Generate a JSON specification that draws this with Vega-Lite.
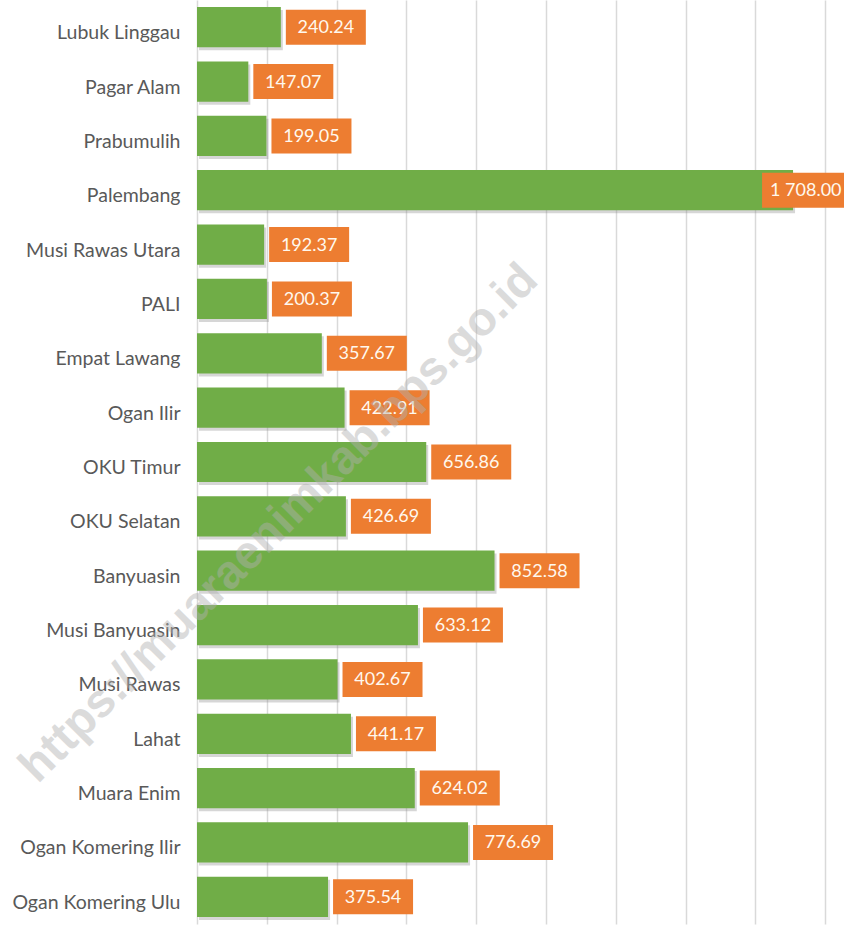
{
  "$schema": "https://vega.github.io/schema/vega-lite/v6.json",
  "autosize": "none",
  "width": 647,
  "height": 924,
  "padding": {"left": 197, "top": 0, "right": 0, "bottom": 6},
  "background": "white",
  "config": {"view": {"stroke": null}},
  "datasets": {
    "main": [
      {"region": "Lubuk Linggau", "value": 240.24, "label": "240.24"},
      {"region": "Pagar Alam", "value": 147.07, "label": "147.07"},
      {"region": "Prabumulih", "value": 199.05, "label": "199.05"},
      {"region": "Palembang", "value": 1708.00, "label": "1 708.00"},
      {"region": "Musi Rawas Utara", "value": 192.37, "label": "192.37"},
      {"region": "PALI", "value": 200.37, "label": "200.37"},
      {"region": "Empat Lawang", "value": 357.67, "label": "357.67"},
      {"region": "Ogan Ilir", "value": 422.91, "label": "422.91"},
      {"region": "OKU Timur", "value": 656.86, "label": "656.86"},
      {"region": "OKU Selatan", "value": 426.69, "label": "426.69"},
      {"region": "Banyuasin", "value": 852.58, "label": "852.58"},
      {"region": "Musi Banyuasin", "value": 633.12, "label": "633.12"},
      {"region": "Musi Rawas", "value": 402.67, "label": "402.67"},
      {"region": "Lahat", "value": 441.17, "label": "441.17"},
      {"region": "Muara Enim", "value": 624.02, "label": "624.02"},
      {"region": "Ogan Komering Ilir", "value": 776.69, "label": "776.69"},
      {"region": "Ogan Komering Ulu", "value": 375.54, "label": "375.54"}
    ],
    "wm": [
      {"region": "OKU Selatan", "value": 215, "text": "https://muaraenimkab.bps.go.id"}
    ]
  },
  "data": {"name": "main"},
  "encoding": {
    "y": {
      "field": "region",
      "type": "nominal",
      "sort": null,
      "scale": {"paddingInner": 0.26, "paddingOuter": 0.13},
      "axis": {
        "title": null,
        "domain": false,
        "ticks": false,
        "labelPadding": 17,
        "labelOffset": 6,
        "labelFont": "Lato",
        "labelFontSize": 19.5,
        "labelColor": "#595959",
        "labelLimit": 0
      }
    },
    "x": {
      "field": "value",
      "type": "quantitative",
      "scale": {"domain": [0, 1854], "nice": false, "zero": true},
      "axis": {
        "title": null,
        "labels": false,
        "ticks": false,
        "domain": false,
        "grid": true,
        "gridColor": "#d9d9d9",
        "gridWidth": 1.5,
        "values": [0, 200, 400, 600, 800, 1000, 1200, 1400, 1600, 1800]
      }
    }
  },
  "layer": [
    {
      "mark": {"type": "bar", "color": "#8a8a8a", "opacity": 0.35, "xOffset": 2, "x2Offset": 2, "yOffset": 3, "y2Offset": 3}
    },
    {
      "mark": {"type": "bar", "color": "#70ad47"}
    },
    {
      "transform": [{"filter": "datum.value < 1500"}],
      "mark": {"type": "point", "filled": true, "color": "#ed7d31", "opacity": 1, "size": 6400, "shape": "M0.125,-0.4375H2.125V0.4375H0.125Z"}
    },
    {
      "transform": [{"filter": "datum.value >= 1500"}],
      "mark": {"type": "point", "filled": true, "color": "#ed7d31", "opacity": 1, "size": 6400, "shape": "M-0.775,-0.4375H1.5V0.4375H-0.775Z"}
    },
    {
      "transform": [{"filter": "datum.value < 1500"}],
      "mark": {"type": "text", "align": "center", "baseline": "middle", "dx": 45, "dy": 1, "font": "Lato", "fontSize": 18, "color": "#fff8ee"},
      "encoding": {"text": {"field": "label"}}
    },
    {
      "transform": [{"filter": "datum.value >= 1500"}],
      "mark": {"type": "text", "align": "left", "baseline": "middle", "dx": -23, "dy": 1, "font": "Lato", "fontSize": 18, "color": "#fff8ee"},
      "encoding": {"text": {"field": "label"}}
    },
    {
      "data": {"name": "wm"},
      "mark": {"type": "text", "align": "center", "baseline": "middle", "angle": -45, "dy": 10, "font": "Liberation Sans", "fontWeight": "bold", "fontSize": 47, "color": "#b0b0b0", "opacity": 0.45},
      "encoding": {"text": {"field": "text"}}
    }
  ]
}
